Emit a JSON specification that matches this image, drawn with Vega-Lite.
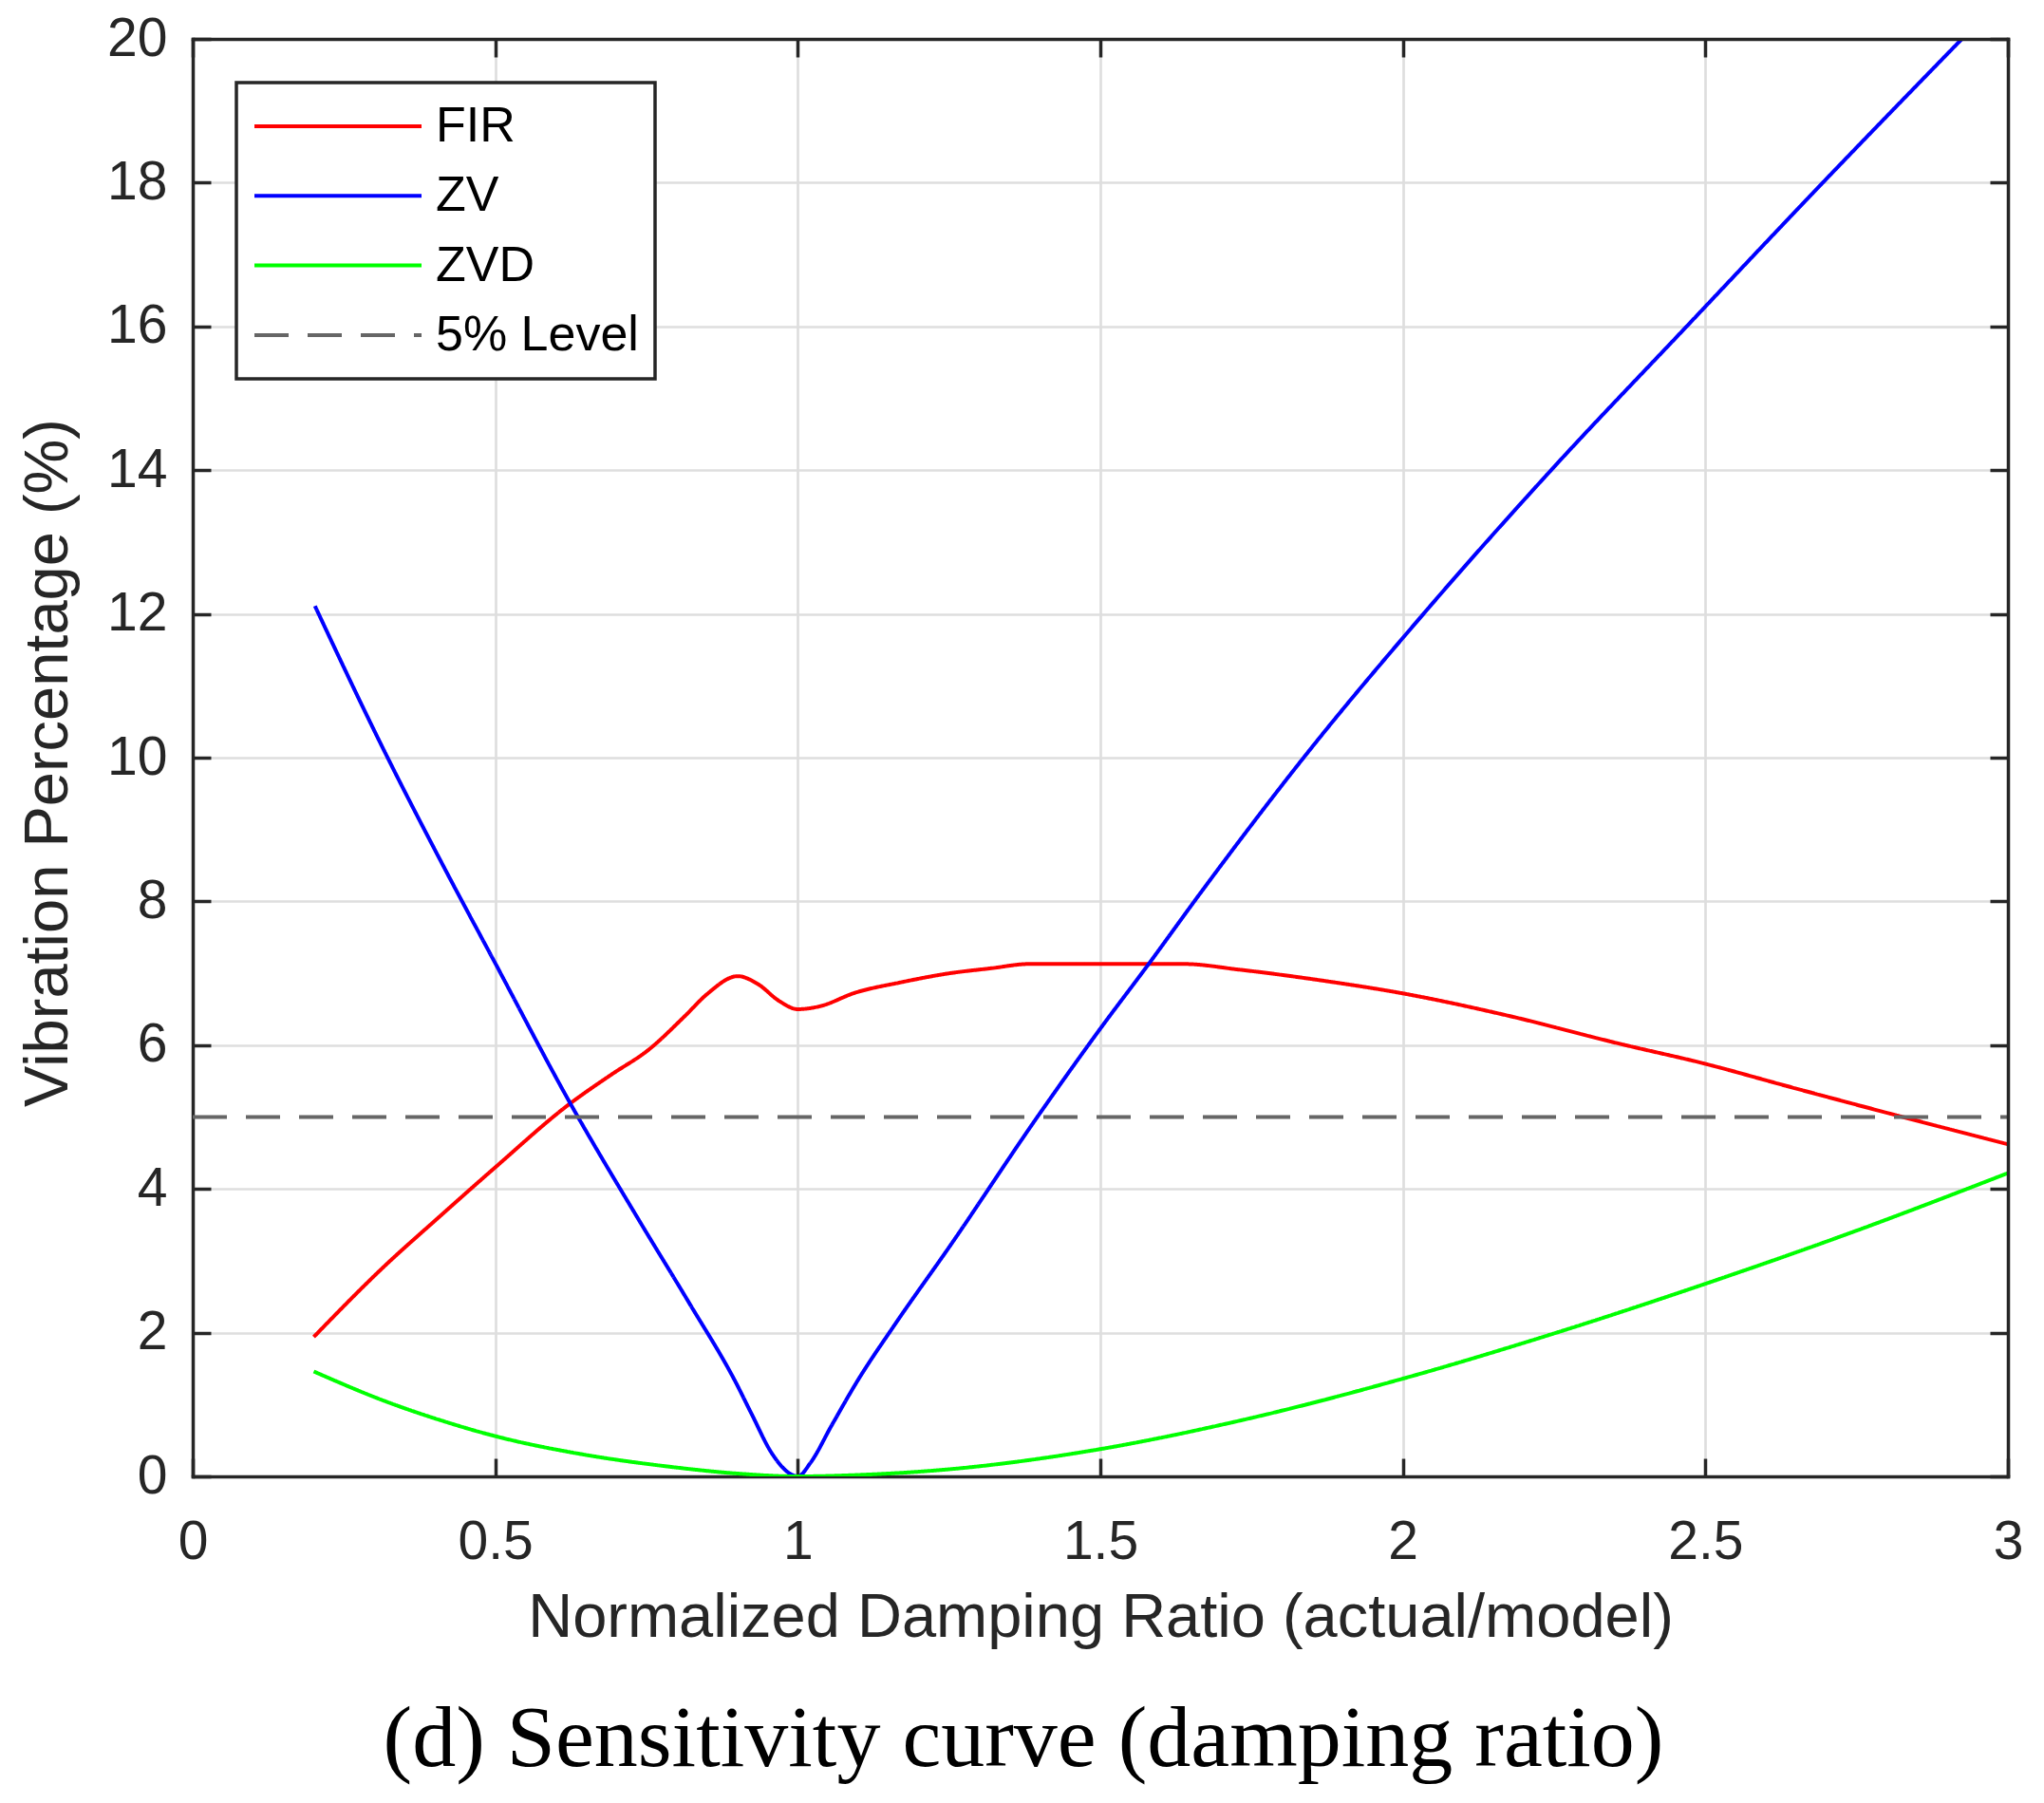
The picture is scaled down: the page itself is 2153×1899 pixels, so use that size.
{
  "$schema": "https://vega.github.io/schema/vega-lite/v6.json",
  "width": 1912,
  "height": 1514,
  "autosize": {"type": "none"},
  "padding": {"left": 203, "top": 41, "right": 38, "bottom": 344},
  "background": "white",
  "config": {"view": {"stroke": null}, "font": "Liberation Sans"},
  "title": {
    "text": "(d) Sensitivity curve (damping ratio)",
    "orient": "bottom",
    "anchor": "middle",
    "frame": "group",
    "dx": -81,
    "offset": 124,
    "baseline": "alphabetic",
    "font": "Liberation Serif",
    "fontSize": 92,
    "fontWeight": "normal",
    "color": "black"
  },
  "data": {
    "values": [
      {"series": "FIR", "ratio": 0.2, "vib": 1.94},
      {"series": "FIR", "ratio": 0.315, "vib": 2.91},
      {"series": "FIR", "ratio": 0.41, "vib": 3.63},
      {"series": "FIR", "ratio": 0.5, "vib": 4.3},
      {"series": "FIR", "ratio": 0.624, "vib": 5.19},
      {"series": "FIR", "ratio": 0.69, "vib": 5.58},
      {"series": "FIR", "ratio": 0.754, "vib": 5.94},
      {"series": "FIR", "ratio": 0.814, "vib": 6.41},
      {"series": "FIR", "ratio": 0.85, "vib": 6.71},
      {"series": "FIR", "ratio": 0.901, "vib": 6.96},
      {"series": "FIR", "ratio": 0.934, "vib": 6.85},
      {"series": "FIR", "ratio": 0.97, "vib": 6.61},
      {"series": "FIR", "ratio": 1.0, "vib": 6.5},
      {"series": "FIR", "ratio": 1.036, "vib": 6.54},
      {"series": "FIR", "ratio": 1.095, "vib": 6.73},
      {"series": "FIR", "ratio": 1.168, "vib": 6.87},
      {"series": "FIR", "ratio": 1.251, "vib": 7.0},
      {"series": "FIR", "ratio": 1.32, "vib": 7.07},
      {"series": "FIR", "ratio": 1.383, "vib": 7.13},
      {"series": "FIR", "ratio": 1.5, "vib": 7.13},
      {"series": "FIR", "ratio": 1.637, "vib": 7.13},
      {"series": "FIR", "ratio": 1.73, "vib": 7.05},
      {"series": "FIR", "ratio": 1.874, "vib": 6.89},
      {"series": "FIR", "ratio": 2.0, "vib": 6.72},
      {"series": "FIR", "ratio": 2.174, "vib": 6.41},
      {"series": "FIR", "ratio": 2.358, "vib": 6.02},
      {"series": "FIR", "ratio": 2.5, "vib": 5.74},
      {"series": "FIR", "ratio": 2.635, "vib": 5.43},
      {"series": "FIR", "ratio": 2.831, "vib": 4.99},
      {"series": "FIR", "ratio": 3.0, "vib": 4.62},
      {"series": "ZV", "ratio": 0.202, "vib": 12.11},
      {"series": "ZV", "ratio": 0.315, "vib": 10.12},
      {"series": "ZV", "ratio": 0.41, "vib": 8.56},
      {"series": "ZV", "ratio": 0.5, "vib": 7.14},
      {"series": "ZV", "ratio": 0.624, "vib": 5.19},
      {"series": "ZV", "ratio": 0.74, "vib": 3.53},
      {"series": "ZV", "ratio": 0.82, "vib": 2.42},
      {"series": "ZV", "ratio": 0.898, "vib": 1.3},
      {"series": "ZV", "ratio": 0.923, "vib": 0.88},
      {"series": "ZV", "ratio": 0.958, "vib": 0.31},
      {"series": "ZV", "ratio": 0.985, "vib": 0.05},
      {"series": "ZV", "ratio": 1.0, "vib": 0.0},
      {"series": "ZV", "ratio": 1.021, "vib": 0.19},
      {"series": "ZV", "ratio": 1.056, "vib": 0.71},
      {"series": "ZV", "ratio": 1.098, "vib": 1.32},
      {"series": "ZV", "ratio": 1.161, "vib": 2.12},
      {"series": "ZV", "ratio": 1.251, "vib": 3.2},
      {"series": "ZV", "ratio": 1.395, "vib": 4.99},
      {"series": "ZV", "ratio": 1.5, "vib": 6.23},
      {"series": "ZV", "ratio": 1.58, "vib": 7.13},
      {"series": "ZV", "ratio": 1.664, "vib": 8.1},
      {"series": "ZV", "ratio": 1.836, "vib": 10.0},
      {"series": "ZV", "ratio": 2.034, "vib": 12.0},
      {"series": "ZV", "ratio": 2.245, "vib": 14.0},
      {"series": "ZV", "ratio": 2.469, "vib": 16.0},
      {"series": "ZV", "ratio": 2.694, "vib": 18.0},
      {"series": "ZV", "ratio": 2.924, "vib": 20.0},
      {"series": "ZVD", "ratio": 0.2, "vib": 1.46},
      {"series": "ZVD", "ratio": 0.32, "vib": 1.04},
      {"series": "ZVD", "ratio": 0.41, "vib": 0.78},
      {"series": "ZVD", "ratio": 0.5, "vib": 0.56},
      {"series": "ZVD", "ratio": 0.642, "vib": 0.31},
      {"series": "ZVD", "ratio": 0.783, "vib": 0.14},
      {"series": "ZVD", "ratio": 0.9, "vib": 0.04},
      {"series": "ZVD", "ratio": 1.0, "vib": 0.0},
      {"series": "ZVD", "ratio": 1.1, "vib": 0.02},
      {"series": "ZVD", "ratio": 1.251, "vib": 0.1},
      {"series": "ZVD", "ratio": 1.5, "vib": 0.38},
      {"series": "ZVD", "ratio": 1.712, "vib": 0.74},
      {"series": "ZVD", "ratio": 2.0, "vib": 1.36},
      {"series": "ZVD", "ratio": 2.254, "vib": 2.0},
      {"series": "ZVD", "ratio": 2.5, "vib": 2.68},
      {"series": "ZVD", "ratio": 2.75, "vib": 3.42},
      {"series": "ZVD", "ratio": 3.0, "vib": 4.22},
      {"series": "5% Level", "ratio": 0.0, "vib": 5.0},
      {"series": "5% Level", "ratio": 3.0, "vib": 5.0}
    ]
  },
  "layer": [
    {
      "mark": {"type": "line", "strokeWidth": 4, "interpolate": "monotone", "clip": true},
      "encoding": {
        "x": {
          "field": "ratio",
          "type": "quantitative",
          "scale": {"domain": [0, 3], "nice": false, "zero": false},
          "axis": {
            "orient": "bottom",
            "values": [0, 0.5, 1, 1.5, 2, 2.5, 3],
            "format": "~g",
            "title": "Normalized Damping Ratio (actual/model)",
            "titleFont": "Liberation Sans",
            "titleFontSize": 65,
            "titleFontWeight": "normal",
            "titleColor": "#262626",
            "titleBaseline": "alphabetic",
            "titleAlign": "center",
            "titleX": 956,
            "titleY": 168,
            "labelFont": "Liberation Sans",
            "labelFontSize": 57,
            "labelColor": "#262626",
            "labelPadding": 60,
            "labelFlush": false,
            "labelOverlap": false,
            "tickSize": -19,
            "tickWidth": 3.5,
            "tickColor": "#262626",
            "domainColor": "#262626",
            "domainWidth": 3.5,
            "domainCap": "square",
            "grid": true,
            "gridColor": "#DEDEDE",
            "gridWidth": 2.7
          }
        },
        "y": {
          "field": "vib",
          "type": "quantitative",
          "scale": {"domain": [0, 20], "nice": false},
          "axis": {
            "orient": "left",
            "values": [0, 2, 4, 6, 8, 10, 12, 14, 16, 18, 20],
            "title": "Vibration Percentage (%)",
            "titleFont": "Liberation Sans",
            "titleFontSize": 65,
            "titleFontWeight": "normal",
            "titleColor": "#262626",
            "titleAngle": -90,
            "titleBaseline": "alphabetic",
            "titleAlign": "center",
            "titleX": -133,
            "titleY": 762,
            "labelFont": "Liberation Sans",
            "labelFontSize": 57,
            "labelColor": "#262626",
            "labelPadding": 46,
            "labelFlush": false,
            "labelOverlap": false,
            "tickSize": -19,
            "tickWidth": 3.5,
            "tickColor": "#262626",
            "domainColor": "#262626",
            "domainWidth": 3.5,
            "domainCap": "square",
            "grid": true,
            "gridColor": "#DEDEDE",
            "gridWidth": 2.7
          }
        },
        "color": {
          "field": "series",
          "type": "nominal",
          "scale": {"domain": ["FIR", "ZV", "ZVD", "5% Level"], "range": ["#FF0000", "#0000FF", "#00FF00", "#666666"]},
          "legend": {
            "title": null,
            "orient": "none",
            "legendX": 46,
            "legendY": 46,
            "direction": "vertical",
            "padding": 17,
            "fillColor": "white",
            "strokeColor": "#262626",
            "symbolType": "stroke",
            "symbolSize": 30976,
            "symbolStrokeWidth": 4,
            "labelFont": "Liberation Sans",
            "labelFontSize": 52,
            "labelColor": "black",
            "labelOffset": 13,
            "labelLimit": 500,
            "clipHeight": 58,
            "rowPadding": 15.3,
            "encode": {"legend": {"update": {"strokeWidth": {"value": 3.5}}}}
          }
        },
        "strokeDash": {
          "field": "series",
          "type": "nominal",
          "scale": {"domain": ["FIR", "ZV", "ZVD", "5% Level"], "range": [[1, 0], [1, 0], [1, 0], [36, 20]]},
          "legend": {
            "title": null,
            "orient": "none",
            "legendX": 46,
            "legendY": 46,
            "direction": "vertical",
            "padding": 17,
            "fillColor": "white",
            "strokeColor": "#262626",
            "symbolType": "stroke",
            "symbolSize": 30976,
            "symbolStrokeWidth": 4,
            "labelFont": "Liberation Sans",
            "labelFontSize": 52,
            "labelColor": "black",
            "labelOffset": 13,
            "labelLimit": 500,
            "clipHeight": 58,
            "rowPadding": 15.3,
            "encode": {"legend": {"update": {"strokeWidth": {"value": 3.5}}}}
          }
        }
      }
    },
    {
      "mark": {"type": "point", "opacity": 0},
      "encoding": {
        "x": {
          "field": "ratio",
          "type": "quantitative",
          "scale": {"domain": [0, 3], "nice": false, "zero": false},
          "axis": {
            "orient": "top",
            "values": [0, 0.5, 1, 1.5, 2, 2.5, 3],
            "labels": false,
            "title": null,
            "tickSize": -19,
            "tickWidth": 3.5,
            "tickColor": "#262626",
            "domainColor": "#262626",
            "domainWidth": 3.5,
            "domainCap": "square",
            "grid": false,
            "zindex": 1
          }
        },
        "y": {
          "field": "vib",
          "type": "quantitative",
          "scale": {"domain": [0, 20], "nice": false},
          "axis": {
            "orient": "right",
            "values": [0, 2, 4, 6, 8, 10, 12, 14, 16, 18, 20],
            "labels": false,
            "title": null,
            "tickSize": -19,
            "tickWidth": 3.5,
            "tickColor": "#262626",
            "domainColor": "#262626",
            "domainWidth": 3.5,
            "domainCap": "square",
            "grid": false,
            "zindex": 1
          }
        }
      }
    }
  ],
  "resolve": {"axis": {"x": "independent", "y": "independent"}}
}
